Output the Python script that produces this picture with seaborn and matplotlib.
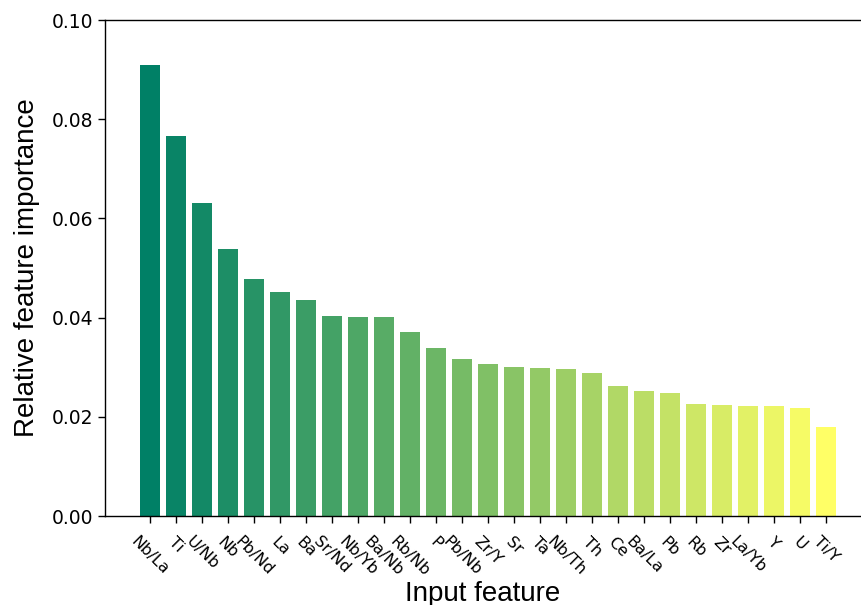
import matplotlib
matplotlib.use("Agg")
import matplotlib.pyplot as plt
import seaborn as sns
import pandas as pd
import numpy as np

features = ["Nb/La", "Ti", "U/Nb", "Nb", "Pb/Nd", "La", "Ba", "Sr/Nd", "Nb/Yb", "Ba/Nb",
            "Rb/Nb", "P", "Pb/Nb", "Zr/Y", "Sr", "Ta", "Nb/Th", "Th", "Ce", "Ba/La",
            "Pb", "Rb", "Zr", "La/Yb", "Y", "U", "Ti/Y"]
importance = [0.0909, 0.0766, 0.0632, 0.0539, 0.0478, 0.0452, 0.0435, 0.0403, 0.0402, 0.0401,
              0.0370, 0.0338, 0.0317, 0.0306, 0.0300, 0.0299, 0.0297, 0.0288, 0.0263, 0.0253,
              0.0248, 0.0226, 0.0224, 0.0222, 0.0221, 0.0217, 0.0179]
y_ticks = [0.00, 0.02, 0.04, 0.06, 0.08, 0.10]

df = pd.DataFrame({"feature": features, "importance": importance})

sns.set_style("white")
plt.rcParams.update({"text.color": "black", "axes.labelcolor": "black",
                     "xtick.color": "black", "ytick.color": "black"})

cmap = matplotlib.colormaps["summer"]
colors = [cmap(v) for v in np.linspace(0, 1, len(features))]

fig = plt.figure(figsize=(8.61, 6.05), dpi=100)
ax = fig.add_axes([105 / 861, 1 - 516 / 605, 1 - 105 / 861, (516 - 20) / 605])

sns.barplot(data=df, x="feature", y="importance", hue="feature", palette=colors,
            legend=False, width=0.8, saturation=1, linewidth=0, ax=ax)

ax.set_xlim(-1.73, 27.35)
ax.set_ylim(0, 0.10)
ax.set_yticks(y_ticks)
ax.set_yticklabels([f"{v:.2f}" for v in y_ticks], fontsize=13.5, family="DejaVu Sans")
ax.tick_params(axis="both", which="both", direction="out", length=5, width=1, color="black",
               bottom=True, left=True)
ax.tick_params(axis="x", pad=8)
plt.setp(ax.get_xticklabels(), rotation=-45, ha="center", fontsize=11.5, family="DejaVu Sans")

ax.set_xlabel("Input feature", fontsize=20, family="Liberation Sans", labelpad=1)
ax.set_ylabel("Relative feature importance", fontsize=20, family="Liberation Sans", labelpad=8)

for s in ["left", "bottom", "top"]:
    ax.spines[s].set_visible(True)
    ax.spines[s].set_color("black")
    ax.spines[s].set_linewidth(1)
ax.spines["right"].set_visible(False)

fig.savefig("out.png", dpi=100)
